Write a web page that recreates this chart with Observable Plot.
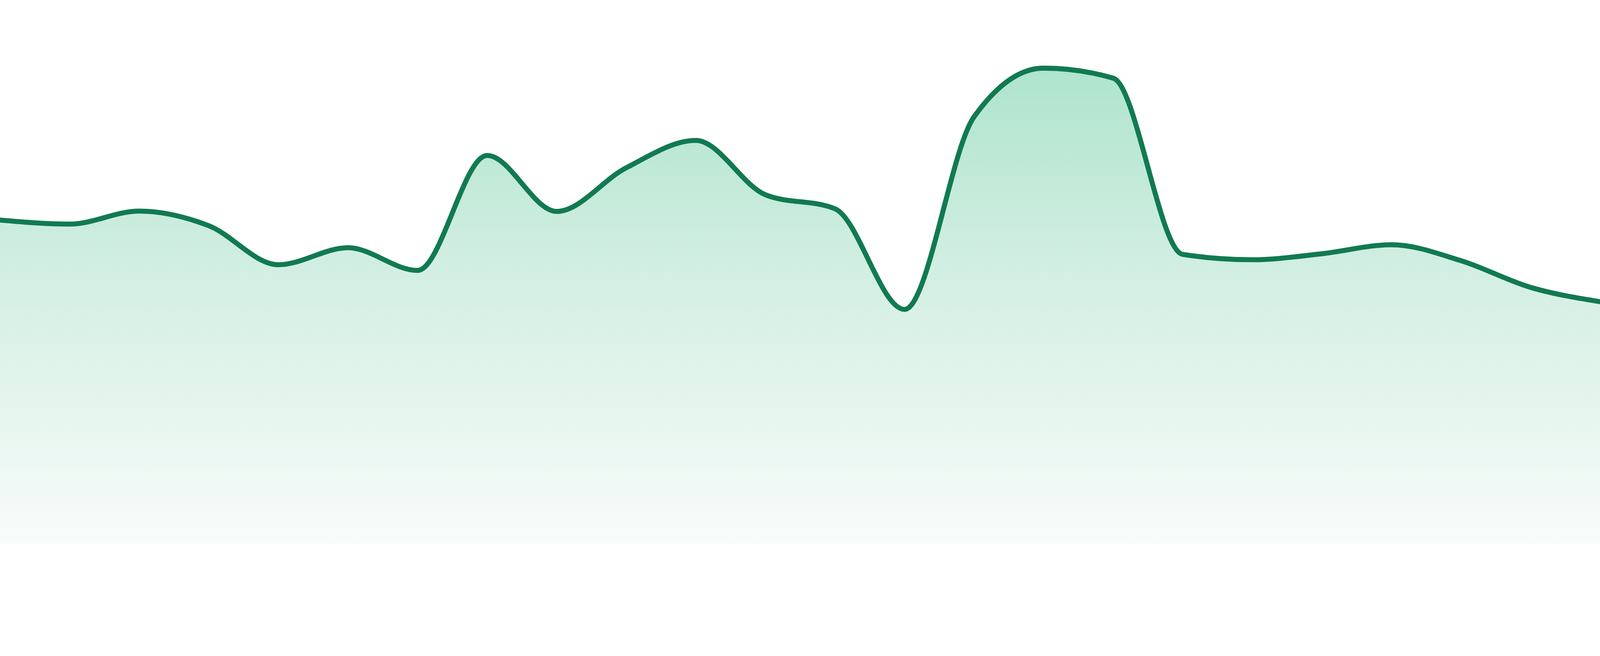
<!DOCTYPE html>
<html>
<head>
<meta charset="utf-8">
<script src="https://cdn.jsdelivr.net/npm/d3@7"></script>
<script src="https://cdn.jsdelivr.net/npm/@observablehq/plot@0.6"></script>
<style>
  html, body { margin: 0; padding: 0; background: #ffffff; }
  #chart svg { display: block; }
</style>
</head>
<body>
<div id="chart"></div>
<script>
// categories (evenly spaced sample positions)
const steps = [0, 1, 2, 3, 4, 5, 6, 7, 8, 9, 10, 11, 12, 13, 14, 15, 16, 17, 18, 19, 20, 21, 22, 23];
// series values
const values = [97.2, 96.0, 99.9, 95.5, 83.8, 88.9, 82.1, 116.6, 99.8, 112.9, 121.1, 104.8,
                100.6, 70.4, 128.2, 142.8, 139.8, 86.9, 85.3, 87.1, 89.8, 85.0, 77.0, 72.7];

const data = steps.map((s, i) => ({step: s, value: values[i]}));

const chart = Plot.plot({
  width: 4800,
  height: 1680,
  marginLeft: 0,
  marginRight: 0,
  marginTop: 0,
  marginBottom: 48,
  x: {domain: [0, 23], axis: null},
  y: {domain: [0, 163.2], axis: null},
  marks: [
    Plot.areaY(data, {x: "step", y: "value", curve: "monotone-x", fill: "url(#areaGrad)"}),
    Plot.lineY(data, {x: "step", y: "value", curve: "monotone-x", stroke: "#117a50", strokeWidth: 15, strokeLinejoin: "round"})
  ]
});

const ns = "http://www.w3.org/2000/svg";
const defs = document.createElementNS(ns, "defs");
const grad = document.createElementNS(ns, "linearGradient");
grad.setAttribute("id", "areaGrad");
grad.setAttribute("x1", "0"); grad.setAttribute("y1", "0");
grad.setAttribute("x2", "0"); grad.setAttribute("y2", "1");
[["0%", "#aee4cd"], ["45%", "#d4efe4"], ["100%", "#f8fcfa"]].forEach(([o, c]) => {
  const st = document.createElementNS(ns, "stop");
  st.setAttribute("offset", o);
  st.setAttribute("stop-color", c);
  grad.appendChild(st);
});
defs.appendChild(grad);
chart.insertBefore(defs, chart.firstChild);
document.getElementById("chart").appendChild(chart);
</script>
</body>
</html>
